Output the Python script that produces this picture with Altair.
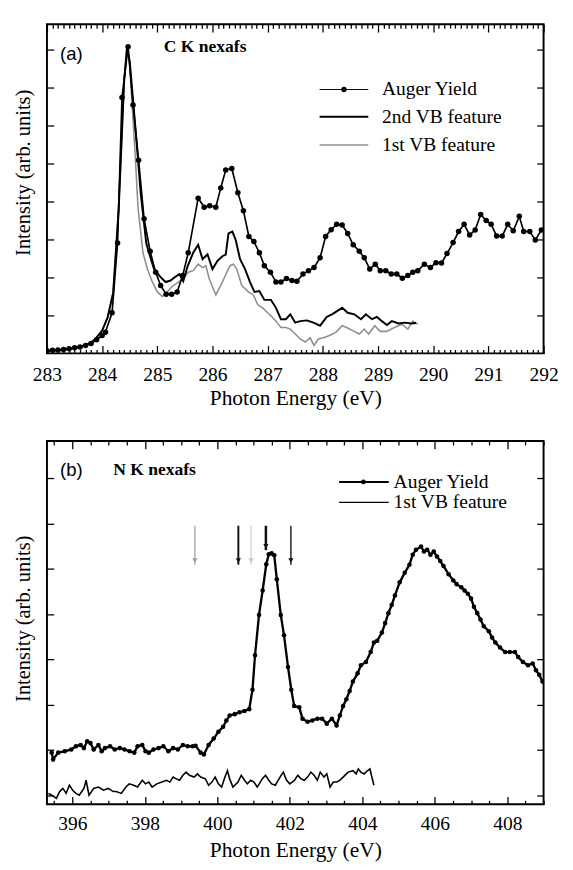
import altair as alt
import pandas as pd

# ---------------- panel (a): C K nexafs ----------------
a_auger_ev = [283.00, 283.10, 283.20, 283.30, 283.40, 283.50, 283.60, 283.70, 283.80, 283.90, 284.00,
              284.06, 284.18, 284.28, 284.36, 284.47, 284.56, 284.66, 284.76, 284.87, 284.97,
              285.06, 285.16, 285.26, 285.36, 285.46, 285.56, 285.74, 285.85, 285.95,
              286.06, 286.15, 286.24, 286.35, 286.46, 286.56, 286.66, 286.75, 286.85, 286.94,
              287.05, 287.15, 287.24, 287.34, 287.44, 287.53, 287.64, 287.74, 287.84, 287.95,
              288.05, 288.15, 288.25, 288.35, 288.45, 288.55, 288.66, 288.75, 288.85, 288.95,
              289.04, 289.14, 289.24, 289.34, 289.44, 289.54, 289.63, 289.72, 289.84, 289.95,
              290.05, 290.15, 290.25, 290.36, 290.46, 290.56, 290.66, 290.76, 290.86, 290.96,
              291.05, 291.15, 291.25, 291.35, 291.45, 291.56, 291.64, 291.75, 291.85, 291.96]
a_auger_int = [0.07, 0.08, 0.09, 0.10, 0.12, 0.15, 0.17, 0.21, 0.26, 0.36, 0.47,
               0.56, 1.07, 2.91, 6.74, 8.08, 6.54, 5.09, 3.55, 2.69, 2.14,
               1.79, 1.56, 1.56, 1.62, 2.05, 2.65, 4.09, 3.85, 3.89,
               3.85, 4.36, 4.83, 4.87, 4.23, 3.76, 3.08, 2.95, 2.65, 2.31,
               2.14, 1.88, 1.88, 1.97, 1.92, 1.90, 2.09, 2.18, 2.26, 2.52,
               3.08, 3.26, 3.40, 3.38, 3.16, 2.86, 2.69, 2.52, 2.22, 2.35,
               2.18, 2.18, 2.09, 2.09, 1.98, 2.05, 2.14, 2.18, 2.35, 2.26,
               2.39, 2.38, 2.63, 2.92, 3.21, 3.40, 3.12, 3.25, 3.66, 3.50,
               3.40, 3.09, 3.09, 3.40, 3.23, 3.61, 3.21, 3.21, 2.99, 3.25]

a_vb2_ev = [283.0, 283.2, 283.4, 283.6, 283.8, 283.9, 284.0, 284.1, 284.2, 284.3,
            284.4, 284.45, 284.5, 284.6, 284.7, 284.8, 284.85, 284.94, 285.06, 285.15,
            285.24, 285.32, 285.40, 285.47, 285.55, 285.65, 285.74, 285.82, 285.91, 286.0,
            286.09, 286.18, 286.24, 286.29, 286.36, 286.42, 286.5, 286.59, 286.68, 286.76,
            286.85, 286.94, 287.06, 287.15, 287.24, 287.33, 287.41, 287.50, 287.59, 287.71,
            287.83, 287.95, 288.07, 288.18, 288.35, 288.45, 288.57, 288.69, 288.78, 288.89,
            288.98, 289.07, 289.16, 289.25, 289.37, 289.49, 289.60, 289.69]
a_vb2_int = [0.06, 0.08, 0.12, 0.17, 0.28, 0.42, 0.6, 0.95, 1.6, 3.8,
             7.2, 8.05, 7.7, 6.0, 4.2, 2.9, 2.65, 2.22, 2.01, 1.88,
             1.92, 2.01, 2.09, 1.9, 2.3, 2.65, 2.86, 2.48, 2.61, 2.22,
             2.44, 2.56, 2.6, 3.16, 3.21, 2.99, 2.48, 2.22, 1.88, 1.62,
             1.64, 1.41, 1.41, 1.20, 0.90, 0.90, 1.03, 0.81, 0.85, 0.87,
             0.81, 0.73, 0.96, 1.04, 1.20, 1.07, 1.03, 0.90, 1.03, 0.90,
             0.96, 0.85, 0.75, 0.85, 0.79, 0.81, 0.79, 0.80]

a_vb1_ev = [283.0, 283.2, 283.4, 283.6, 283.8, 283.9, 284.0, 284.1, 284.2, 284.3,
            284.4, 284.45, 284.5, 284.6, 284.65, 284.74, 284.82, 284.91, 285.0, 285.09,
            285.18, 285.26, 285.38, 285.47, 285.56, 285.65, 285.74, 285.82, 285.88, 285.94,
            286.06, 286.18, 286.26, 286.32, 286.38, 286.44, 286.53, 286.65, 286.74, 286.82,
            286.91, 287.0, 287.06, 287.15, 287.24, 287.33, 287.41, 287.50, 287.59, 287.68,
            287.77, 287.84, 287.92, 288.01, 288.12, 288.24, 288.35, 288.45, 288.54, 288.66,
            288.75, 288.83, 288.94, 289.04, 289.16, 289.28, 289.43, 289.54, 289.63, 289.72]
a_vb1_int = [0.06, 0.08, 0.12, 0.17, 0.28, 0.42, 0.6, 0.95, 1.6, 3.8,
             7.2, 8.05, 7.6, 5.2, 3.85, 2.65, 2.22, 1.88, 1.62, 1.50,
             1.62, 1.75, 1.88, 1.97, 2.14, 2.18, 2.35, 2.26, 2.31, 1.97,
             1.54, 1.88, 2.14, 2.31, 2.35, 2.22, 1.79, 1.62, 1.54, 1.28,
             1.2, 1.07, 0.99, 0.85, 0.68, 0.68, 0.64, 0.51, 0.38, 0.30,
             0.41, 0.21, 0.38, 0.41, 0.47, 0.56, 0.73, 0.67, 0.60, 0.51,
             0.64, 0.51, 0.73, 0.58, 0.58, 0.67, 0.77, 0.64, 0.85, 0.77]

a_x_labels = [283, 284, 285, 286, 287, 288, 289, 290, 291, 292]
a_y_ticks = [1, 2, 3, 4, 5, 6, 7, 8]
a_legend = ["Auger Yield", "2nd VB feature", "1st VB feature"]

# ---------------- panel (b): N K nexafs ----------------
b_auger_ev = [395.43, 395.47, 395.61, 395.79, 395.97, 396.10, 396.23, 396.32, 396.41, 396.50,
              396.59, 396.72, 396.81, 396.90, 397.04, 397.17, 397.31, 397.44, 397.58, 397.71,
              397.80, 397.93, 398.02, 398.11, 398.24, 398.38, 398.51, 398.65, 398.78, 398.91,
              399.05, 399.18, 399.32, 399.40, 399.54, 399.63, 399.76, 399.90, 400.03, 400.16,
              400.25, 400.34, 400.48, 400.61, 400.75, 400.88, 400.97, 401.04, 401.15, 401.25,
              401.35, 401.42, 401.50, 401.57, 401.64, 401.75, 401.84, 401.95, 402.04, 402.12,
              402.26, 402.35, 402.49, 402.62, 402.76, 402.89, 403.02, 403.16, 403.29, 403.38,
              403.47, 403.56, 403.65, 403.74, 403.87, 403.96, 404.10, 404.23, 404.32, 404.41,
              404.54, 404.63, 404.72, 404.81, 404.90, 405.03, 405.17, 405.30, 405.39, 405.48,
              405.62, 405.70, 405.79, 405.88, 405.97, 406.06, 406.15, 406.24, 406.38, 406.51,
              406.60, 406.73, 406.82, 406.91, 407.00, 407.08, 407.17, 407.26, 407.35, 407.49,
              407.58, 407.67, 407.80, 407.94, 408.07, 408.21, 408.30, 408.43, 408.57, 408.70,
              408.79, 408.88, 408.97]
b_auger_int = [0.94, 0.79, 0.94, 0.97, 1.01, 1.08, 1.11, 1.04, 1.19, 1.15,
               1.01, 1.11, 0.97, 1.04, 1.08, 1.01, 1.04, 1.01, 0.97, 0.94,
               1.08, 1.11, 0.97, 0.94, 1.01, 1.04, 1.08, 0.97, 1.04, 1.01,
               1.11, 1.08, 1.08, 1.09, 0.94, 0.90, 1.11, 1.25, 1.40, 1.51,
               1.65, 1.76, 1.79, 1.83, 1.86, 1.90, 2.33, 3.09, 3.98, 4.52,
               5.10, 5.32, 5.34, 5.30, 4.77, 3.98, 3.53, 2.83, 2.33, 1.97,
               1.94, 1.69, 1.62, 1.65, 1.69, 1.69, 1.58, 1.69, 1.54, 1.76,
               1.97, 2.12, 2.30, 2.51, 2.69, 2.87, 2.94, 3.16, 3.37, 3.41,
               3.59, 3.80, 4.02, 4.20, 4.41, 4.70, 4.91, 5.09, 5.31, 5.42,
               5.49, 5.38, 5.42, 5.31, 5.38, 5.27, 5.17, 5.06, 4.88, 4.74,
               4.66, 4.59, 4.52, 4.45, 4.34, 4.16, 4.02, 3.88, 3.73, 3.62,
               3.48, 3.37, 3.26, 3.16, 3.16, 3.16, 3.05, 2.94, 2.87, 2.91,
               2.76, 2.66, 2.51]

b_vb1_ev = [395.34, 395.43, 395.56, 395.65, 395.74, 395.83, 395.92, 396.01, 396.10, 396.19,
            396.32, 396.38, 396.46, 396.59, 396.72, 396.86, 396.99, 397.13, 397.21, 397.35,
            397.48, 397.57, 397.69, 397.80, 397.93, 398.02, 398.11, 398.20, 398.33, 398.47,
            398.60, 398.69, 398.78, 398.87, 398.96, 399.05, 399.14, 399.23, 399.36, 399.45,
            399.54, 399.67, 399.76, 399.85, 399.94, 400.03, 400.12, 400.21, 400.28, 400.34,
            400.43, 400.57, 400.66, 400.75, 400.83, 400.92, 401.01, 401.10, 401.24, 401.33,
            401.42, 401.50, 401.60, 401.73, 401.82, 401.91, 402.00, 402.13, 402.22, 402.31,
            402.40, 402.49, 402.58, 402.67, 402.76, 402.84, 402.94, 403.02, 403.11, 403.20,
            403.29, 403.38, 403.47, 403.61, 403.74, 403.83, 403.89, 403.96, 404.05, 404.14,
            404.21, 404.25, 404.32]
b_vb1_int = [0.04, 0.00, -0.07, 0.08, 0.15, 0.04, 0.22, 0.11, 0.04, 0.00,
             0.15, 0.33, 0.00, 0.15, 0.18, 0.11, 0.15, 0.08, 0.08, 0.04,
             0.18, 0.25, 0.22, 0.18, 0.33, 0.25, 0.29, 0.18, 0.25, 0.29,
             0.33, 0.29, 0.40, 0.36, 0.33, 0.44, 0.51, 0.44, 0.40, 0.47,
             0.40, 0.36, 0.22, 0.29, 0.40, 0.25, 0.18, 0.40, 0.54, 0.36,
             0.18, 0.29, 0.44, 0.33, 0.25, 0.33, 0.29, 0.18, 0.36, 0.44,
             0.33, 0.25, 0.22, 0.40, 0.51, 0.33, 0.25, 0.33, 0.44, 0.36,
             0.33, 0.40, 0.51, 0.44, 0.33, 0.51, 0.40, 0.47, 0.18, 0.29,
             0.29, 0.33, 0.40, 0.51, 0.54, 0.47, 0.58, 0.51, 0.47, 0.54,
             0.58, 0.44, 0.22]

b_arrow_ev = [399.38, 400.58, 400.93, 401.34, 402.03]
b_arrow_top = [5.95, 5.95, 5.95, 5.95, 5.95]
b_arrow_bottom = [5.09, 5.09, 5.09, 5.41, 5.09]
b_arrow_color = ["#9a9a9a", "#111111", "#c4c4c4", "#111111", "#111111"]
b_arrow_width = [1.2, 2.0, 1.0, 2.6, 1.4]

b_x_labels = [396, 398, 400, 402, 404, 406, 408]
b_y_ticks = [0, 1, 2, 3, 4, 5, 6, 7]
b_legend = ["Auger Yield", "1st VB feature"]

# ---------------- styling ----------------
SERIF = "Liberation Serif"
SANS = "Liberation Sans"
W = 510
HA = 338
HB = 373


def minor_values(lo, hi, step, majors):
    n = int(round((hi - lo) / step))
    vals = [round(lo + i * step, 3) for i in range(n + 1)]
    return [v for v in vals if all(abs(v - m) > 1e-6 for m in majors)]


def tick_axis(orient, values, size, offset):
    return alt.Axis(orient=orient, values=values, offset=offset, tickSize=size, tickWidth=1.3,
                    tickColor="black", labels=False, domain=False, grid=False, title=None)


def label_axis(values, label_pad, title_y):
    return alt.Axis(orient="bottom", values=values, format="d", ticks=False, tickSize=0,
                    domain=False, grid=False, labelFont=SERIF, labelFontSize=20,
                    labelColor="black", labelBaseline="middle", labelPadding=label_pad,
                    labelFlush=False, title="Photon Energy (eV)", titleFont=SERIF,
                    titleFontSize=22, titleFontWeight="normal", titleColor="black",
                    titleBaseline="middle", titleY=title_y)


def title_axis(title_y):
    return alt.Axis(orient="left", ticks=False, tickSize=0, labels=False, domain=False,
                    grid=False, title="Intensity (arb. units)", titleFont=SERIF,
                    titleFontSize=21, titleFontWeight="normal", titleColor="black",
                    titleAngle=270, titleAlign="center", titleBaseline="middle",
                    titleX=-24, titleY=title_y)


def text_layer(label, x, y, size, font, weight="normal", align="left"):
    return alt.Chart(pd.DataFrame({"t": [label]})).mark_text(
        font=font, fontSize=size, fontWeight=weight, align=align, baseline="middle",
        color="black").encode(x=alt.value(x), y=alt.value(y), text="t:N")


def legend_line(x1, x2, y, color, width):
    return alt.Chart(pd.DataFrame({"k": [0]})).mark_rule(
        color=color, strokeWidth=width).encode(x=alt.value(x1), x2=alt.value(x2), y=alt.value(y))


def legend_dot(x, y, size):
    return alt.Chart(pd.DataFrame({"k": [0]})).mark_point(
        filled=True, color="black", size=size, opacity=1).encode(x=alt.value(x), y=alt.value(y))


# ---------------- panel (a) ----------------
xa = alt.Scale(domain=[283, 292], nice=False, zero=False)
ya = alt.Scale(domain=[0, 8.67], nice=False, zero=False)
a_minor = minor_values(283, 292, 0.1, a_x_labels)

df_a_auger = pd.DataFrame({"ev": a_auger_ev, "i": a_auger_int})
df_a_vb2 = pd.DataFrame({"ev": a_vb2_ev, "i": a_vb2_int})
df_a_vb1 = pd.DataFrame({"ev": a_vb1_ev, "i": a_vb1_int})

a_line = alt.Chart(df_a_auger).mark_line(color="black", strokeWidth=1.7, clip=True).encode(
    x=alt.X("ev:Q", scale=xa, axis=label_axis(a_x_labels, 22, 45)),
    y=alt.Y("i:Q", scale=ya, axis=title_axis(152)))
a_pts = alt.Chart(df_a_auger).mark_point(filled=True, color="black", size=32, opacity=1, clip=True).encode(
    x=alt.X("ev:Q", scale=xa, axis=tick_axis("top", a_x_labels, 8, -HA)),
    y=alt.Y("i:Q", scale=ya, axis=tick_axis("right", a_y_ticks, 7, -W)))
a_vb1 = alt.Chart(df_a_vb1).mark_line(color="#8e8e8e", strokeWidth=1.6, clip=True).encode(
    x=alt.X("ev:Q", scale=xa, axis=tick_axis("top", a_minor, 4, -HA)),
    y=alt.Y("i:Q", scale=ya, axis=tick_axis("left", a_y_ticks, 7, -W)))
a_vb2 = alt.Chart(df_a_vb2).mark_line(color="black", strokeWidth=2.0, clip=True).encode(
    x=alt.X("ev:Q", scale=xa, axis=tick_axis("bottom", a_x_labels, 8, -HA)),
    y=alt.Y("i:Q", scale=ya, axis=None))
a_ghost = alt.Chart(df_a_vb2).mark_point(opacity=0).encode(
    x=alt.X("ev:Q", scale=xa, axis=tick_axis("bottom", a_minor, 4, -HA)),
    y=alt.Y("i:Q", scale=ya, axis=None))

panel_a = alt.layer(
    a_ghost, a_vb1, a_vb2, a_line, a_pts,
    text_layer("(a)", 25, 31, 19, SANS, align="center"),
    text_layer("C K nexafs", 120, 23, 18, SERIF, weight="bold"),
    legend_line(280, 330, 67, "black", 1.0), legend_dot(305, 67, 30),
    text_layer(a_legend[0], 344, 67, 20, SERIF),
    legend_line(280, 330, 95, "black", 2.0),
    text_layer(a_legend[1], 344, 95, 20, SERIF),
    legend_line(280, 330, 124, "#8e8e8e", 1.6),
    text_layer(a_legend[2], 344, 124, 20, SERIF),
).resolve_axis(x="independent", y="independent").properties(width=W, height=HA)

# ---------------- panel (b) ----------------
xb = alt.Scale(domain=[395.3, 409.0], nice=False, zero=False)
yb = alt.Scale(domain=[-0.2, 7.82], nice=False, zero=False)
b_minor = minor_values(395.5, 409.0, 0.5, b_x_labels)

df_b_auger = pd.DataFrame({"ev": b_auger_ev, "i": b_auger_int})
df_b_vb1 = pd.DataFrame({"ev": b_vb1_ev, "i": b_vb1_int})
df_b_arrow = pd.DataFrame({"ev": b_arrow_ev, "top": b_arrow_top, "bottom": b_arrow_bottom,
                           "head": [b + 0.09 for b in b_arrow_bottom],
                           "c": b_arrow_color, "w": b_arrow_width})

b_line = alt.Chart(df_b_auger).mark_line(color="black", strokeWidth=2.4, clip=True).encode(
    x=alt.X("ev:Q", scale=xb, axis=label_axis(b_x_labels, 20, 47)),
    y=alt.Y("i:Q", scale=yb, axis=title_axis(182)))
b_pts = alt.Chart(df_b_auger).mark_point(filled=True, color="black", size=22, opacity=1, clip=True).encode(
    x=alt.X("ev:Q", scale=xb, axis=tick_axis("top", b_x_labels, 8, -HB)),
    y=alt.Y("i:Q", scale=yb, axis=tick_axis("right", b_y_ticks, 7, -W)))
b_vb = alt.Chart(df_b_vb1).mark_line(color="black", strokeWidth=1.6, clip=True).encode(
    x=alt.X("ev:Q", scale=xb, axis=tick_axis("top", b_minor, 4, -HB)),
    y=alt.Y("i:Q", scale=yb, axis=tick_axis("left", b_y_ticks, 7, -W)))
b_arr = alt.Chart(df_b_arrow).mark_rule().encode(
    x=alt.X("ev:Q", scale=xb, axis=tick_axis("bottom", b_x_labels, 8, -HB)),
    y=alt.Y("top:Q", scale=yb, axis=None), y2="bottom:Q",
    color=alt.Color("c:N", scale=None), strokeWidth=alt.StrokeWidth("w:Q", scale=None))
b_head = alt.Chart(df_b_arrow).mark_point(shape="triangle-down", filled=True, size=28, opacity=1).encode(
    x=alt.X("ev:Q", scale=xb, axis=tick_axis("bottom", b_minor, 4, -HB)),
    y=alt.Y("head:Q", scale=yb, axis=None),
    color=alt.Color("c:N", scale=None))

panel_b = alt.layer(
    b_vb, b_line, b_pts, b_arr, b_head,
    text_layer("(b)", 25, 30, 19, SANS, align="center"),
    text_layer("N K nexafs", 68, 30, 18, SERIF, weight="bold"),
    legend_line(300, 351, 42, "black", 2.0), legend_dot(325, 42, 24),
    text_layer(b_legend[0], 356, 42, 20, SERIF),
    legend_line(300, 351, 63, "black", 1.2),
    text_layer(b_legend[1], 356, 63, 20, SERIF),
).resolve_axis(x="independent", y="independent").properties(width=W, height=HB)

chart = alt.vconcat(panel_a, panel_b, spacing=90, bounds="flush").properties(
    padding={"left": 4, "top": 3, "right": 6, "bottom": 4}
).configure_view(stroke="black", strokeWidth=2)

chart.save("out.html", embed_options={"renderer": "svg", "actions": False})
